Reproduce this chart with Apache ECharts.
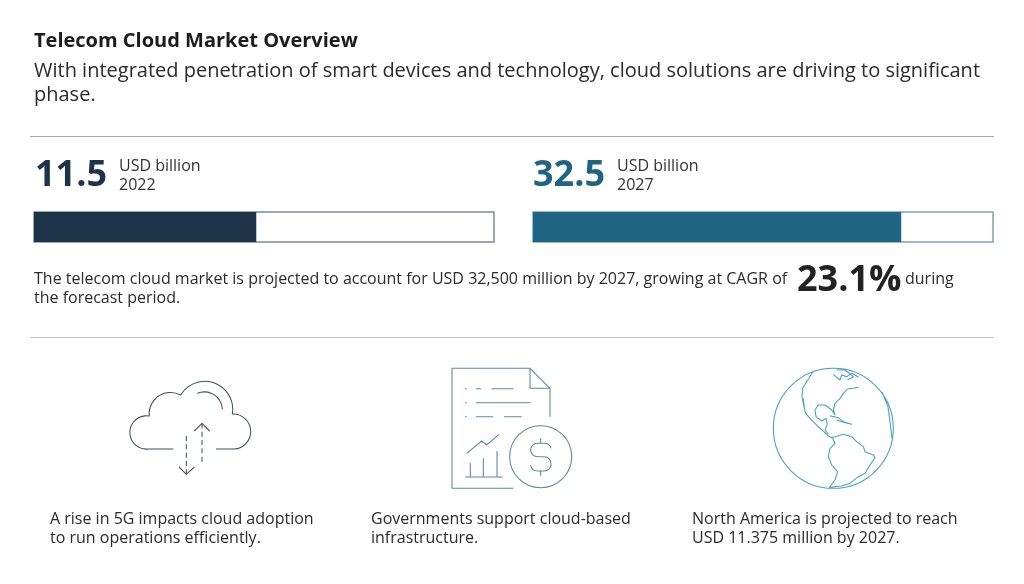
<!DOCTYPE html>
<html>
<head>
<meta charset="utf-8">
<style>html,body{margin:0;padding:0;background:#fff}#c{width:1024px;height:584px}</style>
<script src="https://cdn.jsdelivr.net/npm/echarts@6/dist/echarts.min.js"></script>
</head>
<body>
<div id="c"></div>
<script>
const years = ['2022', '2027'];
const marketValues = [11.5, 32.5];
const axisMaxima = [23.8, 40.6];
const barColors = ['#1d3448', '#1f6583'];
const trackBorders = ['#7d8b97', '#7fa3b5'];
const unitLabel = 'USD billion';
const cagrLabel = '23.1%';
const titleText = 'Telecom Cloud Market Overview';
const subtitleLines = ['With integrated penetration of smart devices and technology, cloud solutions are driving to significant', 'phase.'];
const bodyLines = ['The telecom cloud market is projected to account for USD 32,500 million by 2027, growing at CAGR of', 'the forecast period.'];
const cards = [
  ['A rise in 5G impacts cloud adoption', 'to run operations efficiently.'],
  ['Governments support cloud-based', 'infrastructure.'],
  ['North America is projected to reach', 'USD 11.375 million by 2027.']
];

const FONT = '"Open Sans", "Noto Sans", sans-serif';
function txt(x, y, text, size, color, weight) {
  return { type: 'text', x: x, y: y, silent: true, style: { text: text, fill: color || '#2b2b2b', font: (weight || 400) + ' ' + size + 'px ' + FONT, textVerticalAlign: 'middle', verticalAlign: 'middle', textAlign: 'left', align: 'left' } };
}
function rule(y, color) {
  return { type: 'line', silent: true, shape: { x1: 30, y1: y, x2: 994, y2: y }, style: { stroke: color, lineWidth: 1 } };
}
let iconCount = 0;
function icon(x, y, d, color, dash) {
  const name = 'iconShape' + (iconCount++);
  echarts.graphic.registerShape(name, echarts.graphic.extendPath(d, {}));
  return { type: name, x: x, y: y, scaleX: 1 / 3, scaleY: 1 / 3, silent: true, style: { fill: 'none', stroke: color, lineWidth: 3.2, lineDash: dash || null, lineJoin: 'round' } };
}

const cloudColor = '#3f5362', docColor = '#5b8a9f', globeColor = '#4a9fc7';
const cloudOutline = 'M190 267 L115 267 A50 50 0 1 1 118 168 A64 64 0 0 1 212 105 A84 84 0 0 1 367 162 A52.5 52.5 0 0 1 372 267 L318 267 M262 100 A54 54 0 0 1 337 148 M253 213 L276 190 L299 213 M207 321 L229 343 L253 321';
const cloudDashes = 'M276 305 L276 190 M229 228 L229 343';
const docOutline = 'M220 385 L36 385 L36 25 L270 25 L330 85 L330 170 M270 25 L270 85 L330 85 M75 86 L80 86 M108 86 L123 86 M155 86 L220 86 M75 128 L80 128 M108 128 L272 128 M75 170 L80 170 M108 170 L160 170 M192 170 L245 170 M80 280 L125 243 L140 255 L177 223 M91 350 L91 310 M130 350 L130 295 M171 350 L171 273 M75 351 L188 351 M395 290 A93 93 0 1 1 209 290 A93 93 0 1 1 395 290 M302 235 L302 250 M302 333 L302 347 M333 265 C333 255 322 250 313 250 L293 250 C280 250 272 260 272 270 C272 282 282 290 293 290 L313 290 C325 290 333 300 333 312 C333 325 323 333 313 333 L293 333 C280 333 273 325 272 315';
const globeOutline = 'M400 205 A180 180 0 1 1 40 205 A180 180 0 1 1 400 205 ' +
  // west coast of North America to the isthmus
  'M165 32 L155 40 L147 55 L140 65 L128 85 L126 110 L132 140 L137 160 L150 175 L165 190 L180 205 L195 218 L205 228 L218 235 ' +
  // east coast, Florida, Gulf, Yucatan
  'M296 82 L280 85 L262 87 L250 100 L240 115 L225 130 L220 150 L225 165 L215 150 L195 135 L175 135 L165 150 L168 170 L185 183 L198 175 L202 193 L195 210 L205 222 ' +
  // Arctic islands and Baffin
  'M220 43 L240 60 L245 45 L260 50 L275 40 L296 52 M230 30 L255 30 L280 50 L262 60 ' +
  // Caribbean
  'M210 167 L235 173 L250 185 L275 193 L250 187 L230 180 ' +
  // Baja
  'M130 115 L134 150 ' +
  // South America
  'M212 233 L225 230 L250 223 L275 230 L290 245 L310 260 L315 275 L340 285 L345 293 L330 315 L315 340 L295 350 L270 370 L245 378 L210 382 ' +
  'M218 235 L225 250 L210 265 L205 290 L215 315 L233 335 L225 360 L208 383 ' +
  // Atlantic limb of Africa
  'M366 96 L384 140 L390 185 L396 235';

const option = {
  animation: false,
  grid: years.map((y, i) => ({
    left: i === 0 ? 34 : 533, top: 212, width: 460, height: 30,
    show: true, backgroundColor: '#fff', borderColor: trackBorders[i], borderWidth: 1.5, containLabel: false
  })),
  xAxis: years.map((y, i) => ({ type: 'value', gridIndex: i, min: 0, max: axisMaxima[i], show: false })),
  yAxis: years.map((y, i) => ({ type: 'category', gridIndex: i, data: [y], show: false })),
  series: years.map((y, i) => ({
    type: 'bar', xAxisIndex: i, yAxisIndex: i, barWidth: '100%', silent: true,
    data: [marketValues[i]], itemStyle: { color: barColors[i] }
  })),
  graphic: { elements: [
    txt(34, 41, titleText, 20, '#1c1c1c', 700),
    txt(34, 71, subtitleLines[0], 20, '#2b2b2b'),
    txt(34, 95, subtitleLines[1], 20, '#2b2b2b'),
    rule(136.5, '#a8a8a8'),
    txt(35, 176, String(marketValues[0]), 36, barColors[0], 700),
    txt(119, 166, unitLabel, 16, '#333'),
    txt(119, 185, years[0], 16, '#333'),
    txt(533, 176, String(marketValues[1]), 36, barColors[1], 700),
    txt(617, 166, unitLabel, 16, '#333'),
    txt(617, 185, years[1], 16, '#333'),
    txt(34, 279, bodyLines[0], 16, '#2b2b2b'),
    txt(34, 298, bodyLines[1], 16, '#2b2b2b'),
    txt(797, 281, cagrLabel, 36, '#222', 700),
    txt(905, 279, 'during', 16, '#2b2b2b'),
    rule(337.5, '#c8c8c8'),
    icon(110, 360, cloudOutline, cloudColor),
    icon(110, 360, cloudDashes, cloudColor, [15, 10]),
    icon(440, 360, docOutline, docColor),
    icon(760, 360, globeOutline, globeColor),
    txt(50, 519, cards[0][0], 16), txt(50, 538, cards[0][1], 16),
    txt(371, 519, cards[1][0], 16), txt(371, 538, cards[1][1], 16),
    txt(692, 519, cards[2][0], 16), txt(692, 538, cards[2][1], 16)
  ] }
};
echarts.init(document.getElementById('c'), null, { renderer: 'canvas' }).setOption(option);
</script>
</body>
</html>
